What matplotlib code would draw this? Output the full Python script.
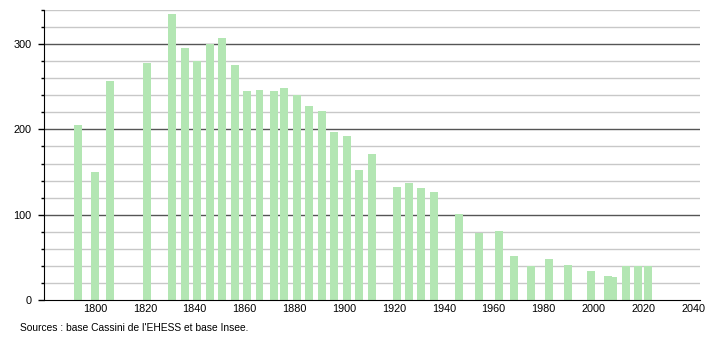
import matplotlib
matplotlib.use("Agg")
import matplotlib.pyplot as plt
from matplotlib.ticker import MultipleLocator, FixedLocator

years = [1793, 1800, 1806, 1821, 1831, 1836, 1841, 1846, 1851, 1856, 1861, 1866,
         1872, 1876, 1881, 1886, 1891, 1896, 1901, 1906, 1911, 1921, 1926, 1931,
         1936, 1946, 1954, 1962, 1968, 1975, 1982, 1990, 1999, 2006, 2008, 2013,
         2018, 2022]
population = [205, 150, 257, 278, 335, 295, 280, 300, 307, 276, 245, 246,
              245, 248, 240, 228, 222, 197, 192, 152, 171, 133, 137, 131,
              127, 101, 78, 81, 52, 40, 48, 41, 34, 28, 27, 40,
              40, 40]
x_ticks = [1800, 1820, 1840, 1860, 1880, 1900, 1920, 1940, 1960, 1980, 2000, 2020, 2040]
y_major = [0, 100, 200, 300]
source_text = "Sources : base Cassini de l'EHESS et base Insee."

plt.rcParams['font.family'] = ['Liberation Sans', 'DejaVu Sans']

fig = plt.figure(figsize=(7.1, 3.4), dpi=100)
ax = fig.add_axes([44/710, 1 - 300/340, (700-44)/710, 290/340])

ax.bar(years, population, width=3.2, color='#b3e6b3', zorder=3, linewidth=0)

ax.set_xlim(1779.5, 2042.8)
ax.set_ylim(0, 340)

# grid lines
for v in range(20, 341, 20):
    if v % 100 == 0:
        ax.axhline(v, color='#555555', lw=1.0, zorder=1)
    else:
        ax.axhline(v, color='#c8c8c8', lw=1.0, zorder=1)

ax.set_xticks(x_ticks)
ax.set_xticklabels([str(t) for t in x_ticks])
ax.yaxis.set_major_locator(FixedLocator(y_major))
ax.yaxis.set_minor_locator(MultipleLocator(20))
ax.tick_params(axis='x', length=0, pad=3, labelsize=7.8)
ax.tick_params(axis='y', which='major', length=4, width=1, pad=5, labelsize=7.8)
ax.tick_params(axis='y', which='minor', length=2.5, width=1)

for s in ['top', 'right']:
    ax.spines[s].set_visible(False)
ax.spines['left'].set_color('black')
ax.spines['bottom'].set_color('black')
ax.spines['left'].set_zorder(4)
ax.spines['bottom'].set_zorder(4)

fig.text(20/710, 1 - 328/340, source_text, fontsize=7.4, ha='left', va='center')

fig.savefig('out.png', dpi=100)
